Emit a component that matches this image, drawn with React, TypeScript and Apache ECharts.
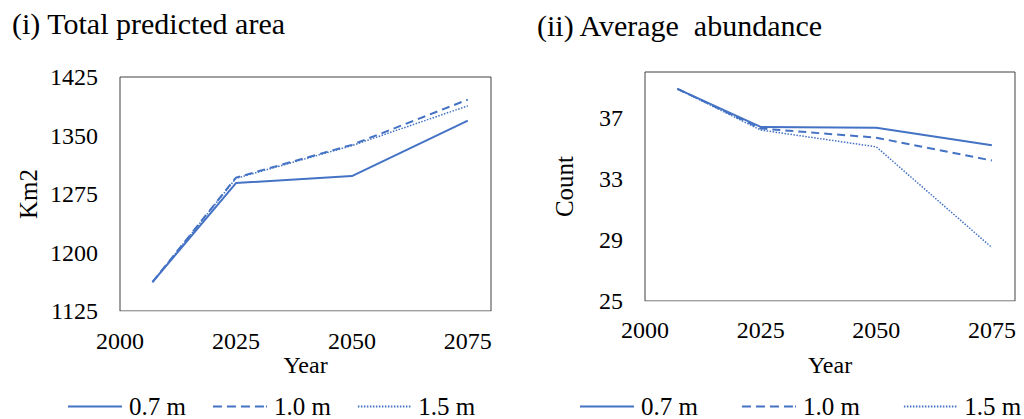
import React, { useEffect, useRef } from 'react';
import * as echarts from 'echarts';

// Sea-level-rise scenarios and projection years
const scenarios = ['0.7 m', '1.0 m', '1.5 m'];
const years = [2007, 2025, 2050, 2075];

// (i) Total predicted area, km2
const area07 = [1162, 1289, 1298, 1369];
const area10 = [1162, 1296, 1338, 1396];
const area15 = [1162, 1295, 1337, 1388];

// (ii) Average abundance, count
const count07 = [38.9, 36.4, 36.35, 35.2];
const count10 = [38.9, 36.3, 35.7, 34.2];
const count15 = [38.9, 36.2, 35.1, 28.5];

const BLUE = '#4472C4';
const FONT = 'Liberation Serif';

const lineStyles = [
  { type: 'solid' as const, width: 2 },
  { type: [8, 5], width: 2 },
  { type: [1.5, 1.5], width: 1.5 },
];

// Legend swatches drawn as 54x2 paths: solid, dashed and dotted
const dottedIcon = (() => {
  let d = 'path://';
  for (let x = 0; x < 54; x += 3) d += `M${x} 0h1.5v2h-1.5z`;
  return d;
})();
const legendIcons = [
  'path://M0 0h54v2H0z',
  'path://M0 0h9v2H0zM14 0h9v2h-9zM28 0h9v2h-9zM42 0h9v2h-9zM53 0h1v2h-1z',
  dottedIcon,
];

function makeSeries(values: number[], idx: number, axis: number) {
  return {
    type: 'line',
    name: scenarios[idx],
    xAxisIndex: axis,
    yAxisIndex: axis,
    symbol: 'none',
    data: years.map((y, i) => [y, values[i]]),
    lineStyle: { color: BLUE, ...lineStyles[idx] },
    itemStyle: { color: BLUE },
    z: 3 - idx,
  };
}

const labelText = (v: number) => `{t|${v}}`;
const labelRich = { t: { fontFamily: FONT, fontSize: 24, color: '#000' } };

export default function App() {
  const ref = useRef<HTMLDivElement>(null);

  useEffect(() => {
    if (!ref.current) return;
    const chart = echarts.init(ref.current, undefined, { renderer: 'svg' });

    const xAxisBase = (nameGap: number, margin: number) => ({
      type: 'value',
      min: 2000,
      max: 2080,
      interval: 25,
      name: 'Year',
      nameLocation: 'middle',
      nameGap,
      nameMoveOverlap: false,
      nameTextStyle: { color: '#000', fontSize: 24, fontFamily: FONT },
      axisLine: { show: true, lineStyle: { color: '#d9d9d9', width: 1 } },
      axisTick: { show: false },
      splitLine: { show: false },
      axisLabel: {
        color: '#000',
        fontSize: 24,
        fontFamily: FONT,
        margin,
        showMaxLabel: false,
        formatter: labelText,
        rich: labelRich,
      },
    });

    const legendBase = (left: number, itemGap: number) => ({
      left,
      top: 394,
      width: 470,
      padding: 0,
      orient: 'horizontal',
      itemWidth: 54,
      itemHeight: 2,
      itemGap,
      data: scenarios.map((name, i) => ({
        name,
        icon: legendIcons[i],
        itemStyle: { color: BLUE, borderWidth: 0 },
      })),
      textStyle: { color: '#000', fontSize: 25, fontFamily: FONT, padding: [0, 0, 0, 2] },
    });

    chart.setOption({
      animation: false,
      backgroundColor: '#fff',
      textStyle: { fontFamily: FONT },
      title: [
        {
          text: '(i) Total predicted area',
          left: 7,
          top: 3,
          textStyle: { color: '#000', fontSize: 30, fontWeight: 'normal', fontFamily: FONT },
        },
        {
          text: '(ii) Average  abundance',
          left: 532,
          top: 5,
          textStyle: { color: '#000', fontSize: 30, fontWeight: 'normal', fontFamily: FONT },
        },
      ],
      legend: [legendBase(68, 27), legendBase(580, 44)],
      grid: [
        {
          left: 120,
          top: 77,
          width: 371,
          height: 234,
          show: true,
          borderColor: '#404040',
          borderWidth: 1,
          backgroundColor: 'transparent',
        },
        {
          left: 645,
          top: 72,
          width: 370,
          height: 229,
          show: true,
          borderColor: '#404040',
          borderWidth: 1,
          backgroundColor: 'transparent',
        },
      ],
      xAxis: [
        { ...xAxisBase(42, 18), gridIndex: 0 },
        { ...xAxisBase(52, 17), gridIndex: 1 },
      ],
      yAxis: [
        {
          gridIndex: 0,
          type: 'value',
          min: 1125,
          max: 1425,
          interval: 75,
          name: 'Km2',
          nameLocation: 'middle',
          nameGap: 79,
          nameMoveOverlap: false,
          nameTextStyle: { color: '#000', fontSize: 25, fontFamily: FONT },
          axisLine: { show: false },
          axisTick: { show: false },
          splitLine: { show: false },
          axisLabel: {
            color: '#000',
            fontSize: 24,
            fontFamily: FONT,
            margin: 22,
            formatter: labelText,
            rich: labelRich,
          },
        },
        {
          gridIndex: 1,
          type: 'value',
          min: 25,
          max: 40,
          interval: 4,
          name: 'Count',
          nameLocation: 'middle',
          nameGap: 68,
          nameMoveOverlap: false,
          nameTextStyle: { color: '#000', fontSize: 25, fontFamily: FONT },
          axisLine: { show: false },
          axisTick: { show: false },
          splitLine: { show: false },
          axisLabel: {
            color: '#000',
            fontSize: 24,
            fontFamily: FONT,
            margin: 22,
            showMaxLabel: false,
            formatter: labelText,
            rich: labelRich,
          },
        },
      ],
      series: [
        makeSeries(area07, 0, 0),
        makeSeries(area10, 1, 0),
        makeSeries(area15, 2, 0),
        makeSeries(count07, 0, 1),
        makeSeries(count10, 1, 1),
        makeSeries(count15, 2, 1),
      ],
    });

    return () => chart.dispose();
  }, []);

  return (
    <div
      ref={ref}
      style={{ position: 'absolute', left: 0, top: 0, width: 1024, height: 419 }}
    />
  );
}
